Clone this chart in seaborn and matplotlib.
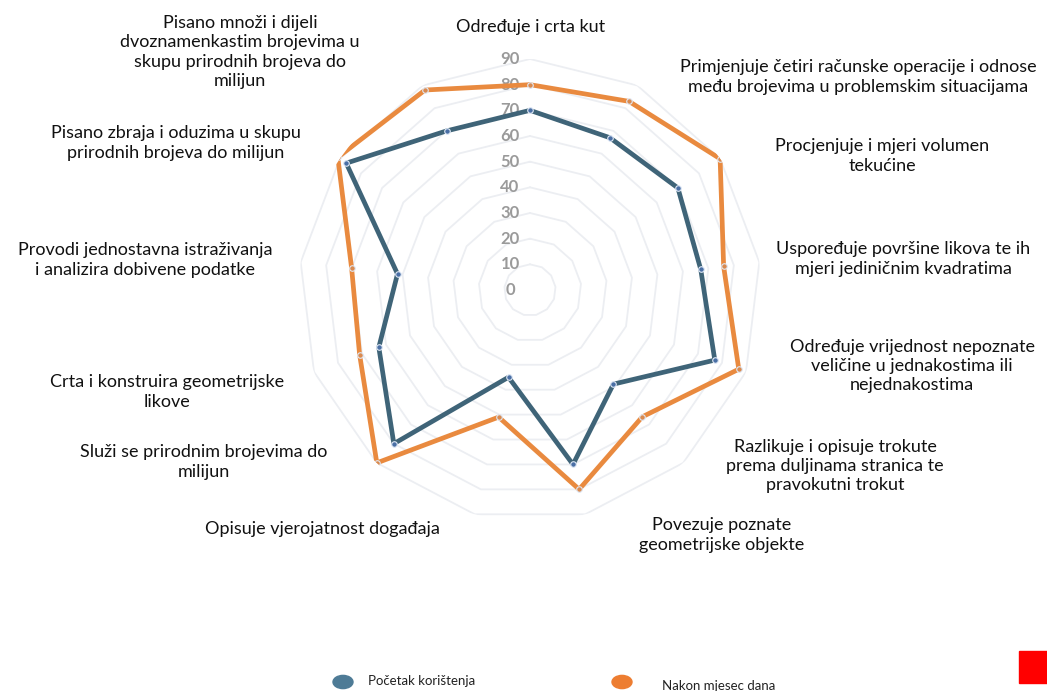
import numpy as np
import pandas as pd
import matplotlib.pyplot as plt
import matplotlib.transforms as mtransforms
import seaborn as sns

# Categories (clockwise from top)
categories = [
    "Određuje i crta kut",
    "Primjenjuje četiri računske operacije i odnose\nmeđu brojevima u problemskim situacijama",
    "Procjenjuje i mjeri volumen\ntekućine",
    "Uspoređuje površine likova te ih\nmjeri jediničnim kvadratima",
    "Određuje vrijednost nepoznate\nveličine u jednakostima ili\nnejednakostima",
    "Razlikuje i opisuje trokute\nprema duljinama stranica te\npravokutni trokut",
    "Povezuje poznate\ngeometrijske objekte",
    "Opisuje vjerojatnost događaja",
    "Služi se prirodnim brojevima do\nmilijun",
    "Crta i konstruira geometrijske\nlikove",
    "Provodi jednostavna istraživanja\ni analizira dobivene podatke",
    "Pisano zbraja i oduzima u skupu\nprirodnih brojeva do milijun",
    "Pisano množi i dijeli\ndvoznamenkastim brojevima u\nskupu prirodnih brojeva do\nmilijun",
]
pocetak = [70, 67, 70, 67, 77, 49, 70, 35, 80, 63, 52, 87, 70]
nakon = [80, 83, 90, 76, 87, 66, 80, 51, 90, 71, 70, 91, 88]
series_names = ["Početak korištenja", "Nakon mjesec dana"]
r_ticks = list(range(0, 100, 10))

# label positions in pixels (centre of text block)
label_pos = [(531, 27), (858, 77), (882, 156), (903, 259), (912, 366), (835, 466),
             (722, 535), (322, 529), (204, 462), (167, 392), (145, 260), (176, 143),
             (240, 52)]

W, H = 1047, 691
sns.set_style("white")
plt.rcParams["font.family"] = ["Lato", "DejaVu Sans"]

fig = plt.figure(figsize=(W / 100, H / 100), dpi=100)
cx, cy, R = 530, 290, 231
ax = fig.add_axes([(cx - R) / W, (H - cy - R) / H, 2 * R / W, 2 * R / H], projection="polar")
ax.set_theta_zero_location("N")
ax.set_theta_direction(-1)

n = len(categories)
theta = np.linspace(0, 2 * np.pi, n, endpoint=False)
theta_closed = np.append(theta, 2 * np.pi)

# polygon grid
for r in r_ticks[1:]:
    ax.plot(theta_closed, [r] * (n + 1), color="#eceef2", lw=1.3, zorder=0)

rows = []
for name, vals in zip(series_names, [pocetak, nakon]):
    for t, v in zip(theta_closed, vals + vals[:1]):
        rows.append({"theta": t, "value": v, "series": name})
df = pd.DataFrame(rows)

line_colors = {"Početak korištenja": "#3f6478", "Nakon mjesec dana": "#e98a3f"}
marker_colors = {"Početak korištenja": "#4a6fa5", "Nakon mjesec dana": "#d98a50"}
sns.lineplot(data=df, x="theta", y="value", hue="series", palette=line_colors,
             sort=False, lw=3.4, legend=False, ax=ax, zorder=3)
for name, vals in zip(series_names, [pocetak, nakon]):
    ax.scatter(theta, vals, s=16, color=marker_colors[name], edgecolor="#dfe8f5",
               linewidth=0.8, zorder=4)

ax.set_ylim(0, 90)
ax.set_xticks([])
ax.set_yticks([])
ax.grid(False)
ax.spines["polar"].set_visible(False)
ax.set_xlabel("")
ax.set_ylabel("")
ax.patch.set_alpha(0)

off = mtransforms.offset_copy(ax.transData, fig=fig, x=-20, y=0, units="dots")
for r in r_ticks:
    ax.text(0, r, str(r), transform=off, ha="center", va="center",
            fontsize=12, color="#9a9a9a", fontweight="bold", zorder=2)

for lab, (x, y) in zip(categories, label_pos):
    fig.text(x / W, 1 - y / H, lab, ha="center", va="center", fontsize=13,
             color="#111111", linespacing=1.25)

# legend
fig.patches.append(plt.Circle((343 / W, 1 - 682 / H), 10 / W, transform=fig.transFigure,
                              color="#4e7b96", figure=fig))
fig.patches.append(plt.Circle((622 / W, 1 - 682 / H), 10 / W, transform=fig.transFigure,
                              color="#ed7d31", figure=fig))
fig.text(368 / W, 1 - 681 / H, series_names[0], ha="left", va="center", fontsize=9.5, color="#222222")
fig.text(662 / W, 1 - 686 / H, series_names[1], ha="left", va="center", fontsize=9.5, color="#222222")
fig.patches.append(plt.Rectangle((1019 / W, 1 - 683 / H), 28 / W, 32 / H,
                                 transform=fig.transFigure, color="#ff0000", figure=fig))

fig.savefig("out.png", dpi=100)
